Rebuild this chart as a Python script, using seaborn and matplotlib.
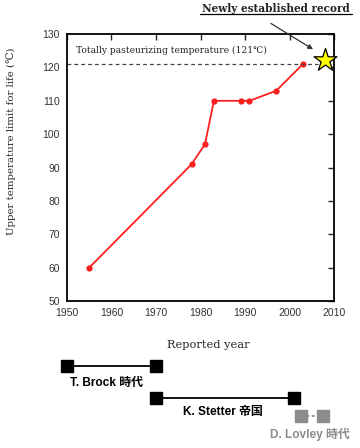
import seaborn as sns
import matplotlib.pyplot as plt

sns.set_theme(style="white")
plt.rcParams['font.family'] = ['DejaVu Serif', 'Noto Sans CJK JP']

# data
years = [1955, 1978, 1981, 1983, 1989, 1991, 1997, 2003]
temps = [60, 91, 97, 110, 110, 110, 113, 121]
record_year = [2008]
record_temp = [122.3]
pasteur_temp = 121

era_names = ["T. Brock 時代", "K. Stetter 帝国", "D. Lovley 時代"]
era_start = [1950, 1970, 2002.5]
era_end = [1970, 2001, 2007.5]
era_colors = ["black", "black", "#8c8c8c"]

xticks = [1950, 1960, 1970, 1980, 1990, 2000, 2010]
yticks = [50, 60, 70, 80, 90, 100, 110, 120, 130]

fig = plt.figure(figsize=(3.6, 4.48), dpi=100)
ax = fig.add_axes([0.186, 0.328, 0.742, 0.596])

sns.lineplot(x=years, y=temps, ax=ax, color="#fa2020", lw=1.3,
             marker="o", markersize=4.5, markeredgewidth=0)
ax.axhline(pasteur_temp, xmax=0.94, color="#444444", lw=0.9, ls=(0, (3, 2.5)))
ax.scatter(record_year, record_temp, marker="*", s=300, color="#ffff00",
           edgecolor="black", linewidth=0.9, zorder=5, clip_on=False)

ax.set_xlim(1950, 2010)
ax.set_ylim(50, 130)
ax.set_xticks(xticks)
ax.set_yticks(yticks)
ax.tick_params(direction="in", top=True, right=True, length=4, width=1,
               labelsize=7.5, labelcolor="#333333", pad=5)
for lab in ax.get_xticklabels() + ax.get_yticklabels():
    lab.set_family("Liberation Sans")
for s in ax.spines.values():
    s.set_color("black")
    s.set_linewidth(1.3)

ax.text(1952, 125.2, "Totally pasteurizing temperature (121℃)", fontsize=6.6,
        va="center", ha="left")
ax.annotate("", xy=(2005.8, 125.0), xytext=(1995.3, 133.6),
            arrowprops=dict(arrowstyle="-|>", color="#333333", lw=0.9,
                            mutation_scale=7),
            annotation_clip=False)
fig.text(350 / 360, 1 - 8 / 448, "Newly established record", fontsize=7.6,
         fontweight="bold", ha="right", va="center")
fig.add_artist(plt.Line2D([200 / 360, 352 / 360], [1 - 14 / 448, 1 - 14 / 448],
                          color="black", lw=0.9))

fig.text(11 / 360, 1 - 141 / 448, "Upper temperature limit for life (℃)",
         fontsize=7.4, rotation=90, ha="center", va="center")
fig.text(208 / 360, 1 - 345 / 448, "Reported year", fontsize=8.2,
         ha="center", va="center")

# timeline of eras below, y in pixel rows
ax2 = fig.add_axes([0.186, 0.0, 0.742, 93 / 448])
ax2.set_xlim(1950, 2010)
ax2.set_ylim(448, 355)
ax2.axis("off")
rows = [366, 398, 416]
label_rows = [383, 412, 434]
label_x = [1958.8, 1985.0, 2004.6]
for i in range(3):
    ls = "-" if i < 2 else (0, (1.5, 1.5))
    ax2.plot([era_start[i], era_end[i]], [rows[i], rows[i]], color=era_colors[i],
             lw=1.3, ls=ls, marker="s", markersize=8, clip_on=False)
    ax2.text(label_x[i], label_rows[i], era_names[i], fontsize=8.6,
             fontweight="bold", color=era_colors[i], ha="center", va="center",
             family=["Liberation Sans", "Noto Sans CJK JP"])

fig.savefig("out.png", dpi=100)
